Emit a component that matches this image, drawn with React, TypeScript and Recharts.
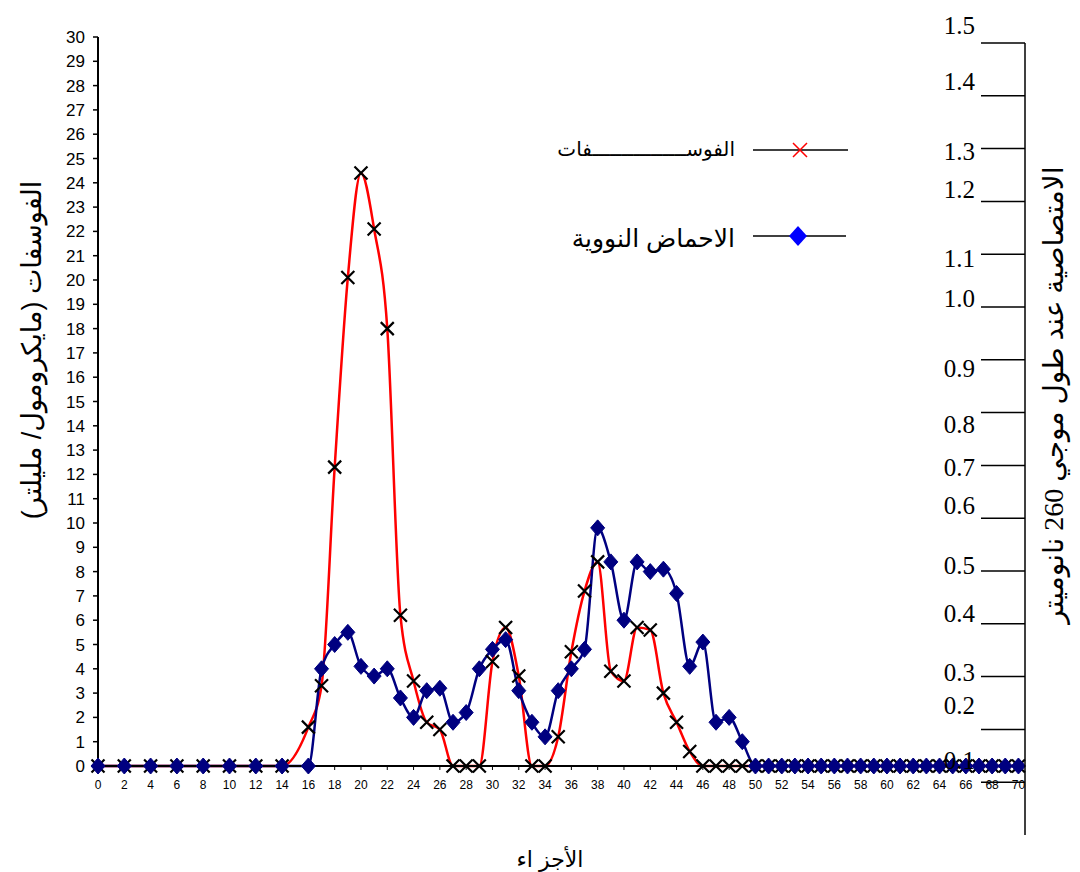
import React from "react";
import { ComposedChart, Line, XAxis, YAxis } from "recharts";

// fraction numbers (x)
const fractions = [
  0, 2, 4, 6, 8, 10, 12, 14, 16, 17, 18, 19, 20, 21, 22, 23, 24, 25, 26, 27, 28, 29, 30,
  31, 32, 33, 34, 35, 36, 37, 38, 39, 40, 41, 42, 43, 44, 45, 46, 47, 48, 49, 50, 51, 52,
  53, 54, 55, 56, 57, 58, 59, 60, 61, 62, 63, 64, 65, 66, 67, 68, 69, 70,
];

// الفوسفات (micromol / ml)
const phosphate = [
  0, 0, 0, 0, 0, 0, 0, 0, 1.6, 3.3, 12.3, 20.1, 24.4, 22.1, 18.0, 6.2, 3.5, 1.8, 1.5, 0, 0, 0,
  4.3, 5.7, 3.7, 0, 0, 1.2, 4.7, 7.2, 8.4, 3.9, 3.5, 5.7, 5.6, 3.0, 1.8, 0.6, 0, 0, 0, 0, 0, 0,
  0, 0, 0, 0, 0, 0, 0, 0, 0, 0, 0, 0, 0, 0, 0, 0, 0, 0, 0,
];

// الاحماض النووية
const nucleicAcids = [
  0, 0, 0, 0, 0, 0, 0, 0, 0, 4.0, 5.0, 5.5, 4.1, 3.7, 4.0, 2.8, 2.0, 3.1, 3.2, 1.8, 2.2, 4.0,
  4.8, 5.2, 3.1, 1.8, 1.2, 3.1, 4.0, 4.8, 9.8, 8.4, 6.0, 8.4, 8.0, 8.1, 7.1, 4.1, 5.1, 1.8, 2.0,
  1.0, 0, 0, 0, 0, 0, 0, 0, 0, 0, 0, 0, 0, 0, 0, 0, 0, 0, 0, 0, 0, 0,
];

const xTicks = [
  0, 2, 4, 6, 8, 10, 12, 14, 16, 18, 20, 22, 24, 26, 28, 30, 32, 34, 36, 38, 40, 42, 44, 46,
  48, 50, 52, 54, 56, 58, 60, 62, 64, 66, 68, 70,
];
const leftTicks = [
  0, 1, 2, 3, 4, 5, 6, 7, 8, 9, 10, 11, 12, 13, 14, 15, 16, 17, 18, 19, 20, 21, 22, 23, 24,
  25, 26, 27, 28, 29, 30,
];
const absorbanceTicks = [0.1, 0.2, 0.3, 0.4, 0.5, 0.6, 0.7, 0.8, 0.9, 1.0, 1.1, 1.2, 1.3, 1.4, 1.5];

// the hand-placed labels of the original sit a little off their tick lines
const absorbanceLabelNudge: Record<string, number> = {
  "0.1": -22, "0.2": -24, "0.3": -4, "0.4": -10, "0.5": -6, "0.6": -13, "0.7": 2, "0.8": 12,
  "0.9": 9, "1.0": -9, "1.1": 4, "1.2": -12, "1.3": 3, "1.4": -14, "1.5": -18,
};

const data = fractions.map((f, i) => ({
  fraction: f,
  phosphate: phosphate[i],
  nucleic: nucleicAcids[i],
}));

const sans = "'Liberation Sans', Arial, 'DejaVu Sans', sans-serif";
const serif = "'Liberation Serif', 'Times New Roman', 'DejaVu Sans', serif";

const CrossDot = (props: any) => {
  const { cx, cy, index } = props;
  if (cx == null || cy == null) return <g key={`xc-${index}`} />;
  const s = 6.5;
  return (
    <path
      key={`xc-${index}`}
      d={`M${cx - s},${cy - s}L${cx + s},${cy + s}M${cx + s},${cy - s}L${cx - s},${cy + s}`}
      stroke="#000"
      strokeWidth={2.2}
      fill="none"
    />
  );
};

const DiamondDot = (props: any) => {
  const { cx, cy, index } = props;
  if (cx == null || cy == null) return <g key={`dm-${index}`} />;
  return (
    <path
      key={`dm-${index}`}
      d={`M${cx},${cy - 8}L${cx + 7},${cy}L${cx},${cy + 8}L${cx - 7},${cy}Z`}
      fill="#000080"
      stroke="#000080"
      strokeWidth={1}
    />
  );
};

const AbsorbanceTick = (props: any) => {
  const { x, y, payload } = props;
  const label = Number(payload.value).toFixed(1);
  return (
    <text
      x={x - 2}
      y={y + (absorbanceLabelNudge[label] ?? 0)}
      textAnchor="end"
      dominantBaseline="central"
      fontFamily={serif}
      fontSize={25}
      fill="#000"
    >
      {label}
    </text>
  );
};

export default function App() {
  return (
    <div style={{ position: "absolute", left: 0, top: 0, width: 1080, height: 872, background: "#fff" }}>
      <div style={{ position: "absolute", left: 0, top: 0 }}>
        <ComposedChart width={1080} height={872} data={data} margin={{ top: 37, right: 55, bottom: 76, left: 38 }}>
          <XAxis
            dataKey="fraction"
            type="number"
            domain={[0, 70.5]}
            ticks={xTicks}
            interval={0}
            tickSize={4}
            tickMargin={10}
            axisLine={{ stroke: "#000", strokeWidth: 2 }}
            tickLine={{ stroke: "#000" }}
            tick={{ fill: "#000", fontSize: 12, fontFamily: sans }}
          />
          <YAxis
            domain={[0, 30]}
            ticks={leftTicks}
            interval={0}
            width={60}
            tickSize={5}
            tickMargin={8}
            axisLine={{ stroke: "#000", strokeWidth: 2 }}
            tickLine={{ stroke: "#000", strokeWidth: 1.5 }}
            tick={{ fill: "#000", fontSize: 17, fontFamily: sans }}
          />
          <Line
            dataKey="phosphate"
            type="monotone"
            stroke="#ff0000"
            strokeWidth={2.5}
            dot={CrossDot}
            activeDot={false}
            isAnimationActive={false}
          />
          <Line
            dataKey="nucleic"
            type="monotone"
            stroke="#000080"
            strokeWidth={2.5}
            dot={DiamondDot}
            activeDot={false}
            isAnimationActive={false}
          />
        </ComposedChart>
      </div>

      {/* right-hand absorbance axis, drawn on its own taller scale */}
      <div style={{ position: "absolute", left: 0, top: 0, pointerEvents: "none" }}>
        <ComposedChart width={1080} height={872} data={data} margin={{ top: 43, right: 55, bottom: 37, left: 0 }}>
          <XAxis dataKey="fraction" type="number" domain={[0, 70.5]} hide />
          <YAxis
            orientation="right"
            mirror
            type="number"
            domain={[0, 1.5]}
            allowDataOverflow
            ticks={absorbanceTicks}
            interval={0}
            tickSize={44}
            tickMargin={4}
            axisLine={{ stroke: "#000", strokeWidth: 1.5 }}
            tickLine={{ stroke: "#000", strokeWidth: 1.5 }}
            tick={AbsorbanceTick}
          />
          <Line
            dataKey="absorbance"
            stroke="none"
            dot={false}
            activeDot={false}
            isAnimationActive={false}
          />
        </ComposedChart>
      </div>

      {/* legend */}
      <div style={{ position: "absolute", left: 0, top: 0, width: 1080, height: 872, pointerEvents: "none" }}>
        <div
          style={{
            position: "absolute",
            right: 1080 - 735,
            top: 150,
            transform: "translateY(-55%)",
            fontFamily: sans,
            fontSize: 20,
            direction: "rtl",
            whiteSpace: "nowrap",
          }}
        >
          الفوســــــــــــــــفات
        </div>
        <div
          style={{
            position: "absolute",
            right: 1080 - 735,
            top: 240,
            transform: "translateY(-55%)",
            fontFamily: sans,
            fontSize: 25,
            direction: "rtl",
            whiteSpace: "nowrap",
          }}
        >
          الاحماض النووية
        </div>
        <svg width={1080} height={872} style={{ position: "absolute", left: 0, top: 0 }}>
          <line x1={753} y1={150} x2={848} y2={150} stroke="#000" strokeWidth={1.5} />
          <path d="M793,143L807,157M807,143L793,157" stroke="#ff0000" strokeWidth={1.5} fill="none" />
          <line x1={753} y1={236} x2={846} y2={236} stroke="#000" strokeWidth={1.5} />
          <path d="M798,226L807,236L798,246L789,236Z" fill="#0000ff" />
        </svg>

        {/* axis titles */}
        <div
          style={{
            position: "absolute",
            left: 32,
            top: 350,
            transform: "translate(-50%, -50%) rotate(-90deg)",
            fontFamily: sans,
            fontSize: 27,
            direction: "rtl",
            whiteSpace: "nowrap",
          }}
        >
          الفوسفات (مايكرومول/ مليلتر)
        </div>
        <div
          style={{
            position: "absolute",
            left: 1053,
            top: 395,
            transform: "translate(-50%, -50%) rotate(-90deg)",
            fontFamily: serif,
            fontSize: 28,
            direction: "rtl",
            whiteSpace: "nowrap",
          }}
        >
          الامتصاصية عند طول موجي 260 نانوميتر
        </div>
        <div
          style={{
            position: "absolute",
            left: 550,
            top: 860,
            transform: "translate(-50%, -50%)",
            fontFamily: sans,
            fontSize: 22,
            direction: "rtl",
            whiteSpace: "nowrap",
          }}
        >
          الأجز اء
        </div>
      </div>
    </div>
  );
}
